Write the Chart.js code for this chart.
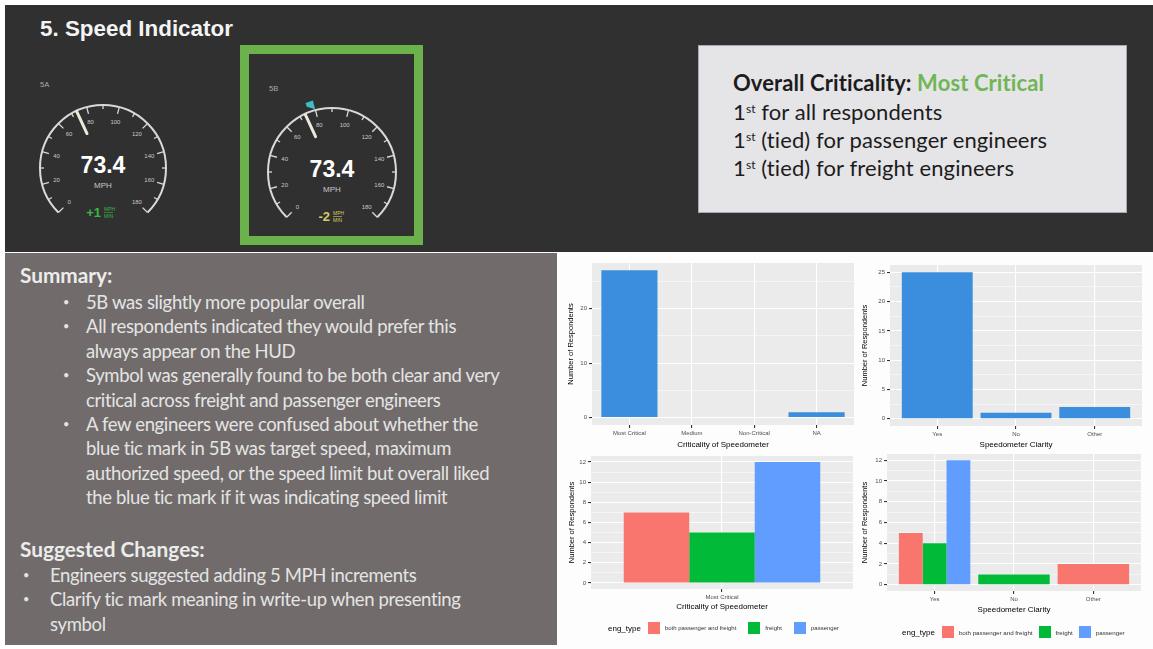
<!DOCTYPE html>
<html><head><meta charset="utf-8">
<script src="https://cdn.jsdelivr.net/npm/chart.js@4.4.1/dist/chart.umd.min.js"></script>
<style>
html,body{margin:0;padding:0;background:#ffffff;width:1153px;height:649px;overflow:hidden;position:relative;font-family:"Liberation Sans",Arial,sans-serif}
#top{position:absolute;left:5px;top:5px;width:1148px;height:247px;background:#303030}
#title{position:absolute;left:40px;top:16px;font:bold 22.4px "Liberation Sans",Arial,sans-serif;color:#f4f4f4;white-space:nowrap}
#gbox{position:absolute;left:240px;top:45px;width:183px;height:200px;border:9px solid #6cb24c;box-sizing:border-box}
#gsvg{position:absolute;left:0;top:0}
#crit{position:absolute;left:698px;top:45px;width:429px;height:168px;background:#e5e4e7;border:1px solid #a6a9b5;box-sizing:border-box}
.ct{position:absolute;left:733px;font:22px Lato,"Open Sans",sans-serif;color:#1c1c1c;white-space:nowrap;line-height:28px;letter-spacing:0.1px}
.ct sup{font-size:12px;vertical-align:top;position:relative;top:-3px}
#sumbox{position:absolute;left:5px;top:253px;width:552px;height:392px;background:#716c6b}
.st{position:absolute;font:bold 20.8px Lato,"Open Sans",sans-serif;color:#ececec;white-space:nowrap;line-height:24.4px}
.sl{position:absolute;font:18.5px Lato,"Open Sans",sans-serif;color:#e4e4e4;white-space:nowrap;line-height:24.4px;letter-spacing:-0.36px}
.bl{position:absolute;font:11px Lato,"Open Sans",sans-serif;color:#e4e4e4;line-height:24.4px}
#right{position:absolute;left:557px;top:253px;width:596px;height:396px;background:#fdfdfd}
canvas{position:absolute}
.lg{position:absolute;display:flex;align-items:center;font:6px "Liberation Sans",Arial,sans-serif;color:#333;white-space:nowrap}
.lg .lt{font-size:8px;color:#000;margin-right:7px}
.lg .k{width:12px;height:12px;margin-right:5px}
.lg .tx{margin-right:12px}
#lg4 .tx{margin-right:6px}
</style></head>
<body>
<div id="top"></div>
<div id="title">5. Speed Indicator</div>
<div id="gbox"></div>
<svg id="gsvg" width="1153" height="252" xmlns="http://www.w3.org/2000/svg"></svg>

<div id="crit"></div>
<div class="ct" style="top:69px;font-weight:bold">Overall Criticality: <span style="color:#6fb656">Most Critical</span></div>
<div class="ct" style="top:98px">1<sup>st</sup> for all respondents</div>
<div class="ct" style="top:126px">1<sup>st</sup> (tied) for passenger engineers</div>
<div class="ct" style="top:154px">1<sup>st</sup> (tied) for freight engineers</div>

<div id="sumbox"></div>
<div class="st" style="left:20px;top:263px">Summary:</div>
<div id="sumlines"></div>
<div class="st" style="left:20px;top:537px">Suggested Changes:</div>

<div id="right"></div>
<canvas id="c1" width="298" height="195" style="left:557px;top:255px"></canvas>
<canvas id="c2" width="298" height="195" style="left:855px;top:255px"></canvas>
<canvas id="c3" width="298" height="165" style="left:557px;top:447px"></canvas>
<canvas id="c4" width="298" height="170" style="left:855px;top:445px"></canvas>
<div class="lg" id="lg3" style="left:608px;top:622px"></div>
<div class="lg" id="lg4" style="left:902px;top:626px;font-size:6.2px"></div>

<script>
// ---------- data ----------
const critCategories = ["Most Critical", "Medium", "Non-Critical", "NA"];
const critCounts = [27, 0, 0, 1];
const critTicks = [0, 10, 20];

const clarityCategories = ["Yes", "No", "Other"];
const clarityCounts = [25, 1, 2];
const clarityTicks = [0, 5, 10, 15, 20, 25];

const engTypes = ["both passenger and freight", "freight", "passenger"];
const critTypeCategories = ["Most Critical"];
const critBoth = [7];
const critFreight = [5];
const critPassenger = [12];
const clarityBoth = [5, null, 2];
const clarityFreight = [4, 1, null];
const clarityPassenger = [12, null, null];
const typeTicks = [0, 2, 4, 6, 8, 10, 12];

const gaugeTickLabels = [0, 20, 40, 60, 80, 100, 120, 140, 160, 180];
const gaugeSpeed = 73.4;
const gaugeLimitMark = 80;
const gaugeRates = ["+1", "-2"];

const summaryBullets = [
  ["5B was slightly more popular overall"],
  ["All respondents indicated they would prefer this", "always appear on the HUD"],
  ["Symbol was generally found to be both clear and very", "critical across freight and passenger engineers"],
  ["A few engineers were confused about whether the", "blue tic mark in 5B was target speed, maximum", "authorized speed, or the speed limit but overall liked", "the blue tic mark if it was indicating speed limit"]
];
const changeBullets = [
  ["Engineers suggested adding 5 MPH increments"],
  ["Clarify tic mark meaning in write-up when presenting", "symbol"]
];

const singleBlue = "#3b8edd";
const typeColors = ["#F8766D", "#00BA38", "#619CFF"];
const FONT = "'Liberation Sans', Arial, sans-serif";

// ---------- text blocks ----------
(function(){
  const host = document.getElementById('sumlines');
  function addList(items, top, bx, tx){
    let y = top;
    items.forEach(lines => {
      lines.forEach((ln, i) => {
        if (i === 0) {
          const b = document.createElement('div'); b.className='bl'; b.style.left=bx+'px'; b.style.top=y+'px'; b.textContent='•'; host.appendChild(b);
        }
        const d = document.createElement('div'); d.className='sl'; d.style.left=tx+'px'; d.style.top=y+'px'; d.textContent=ln; host.appendChild(d);
        y += 24.4;
      });
    });
  }
  addList(summaryBullets, 290, 63, 86);
  addList(changeBullets, 563, 23, 50);
})();

// ---------- gauges ----------
(function(){
  const svg = document.getElementById('gsvg');
  const NS = 'http://www.w3.org/2000/svg';
  function el(tag, attrs, text){ const e=document.createElementNS(NS,tag); for(const k in attrs) e.setAttribute(k, attrs[k]); if(text!==undefined) e.textContent=text; svg.appendChild(e); return e; }
  function pt(cx, cy, R, v){ const a=(-135 + v*1.5)*Math.PI/180; return [cx + R*Math.sin(a), cy - R*Math.cos(a)]; }
  function gauge(cx, cy, r, name, rate, rateColor, limit){
    el('text',{x:cx-63,y:cy-81,fill:'#a9a9a9','font-size':7.5,'font-family':FONT},name);
    const s=pt(cx,cy,r,0), e=pt(cx,cy,r,180);
    el('path',{d:`M${s[0]} ${s[1]} A${r} ${r} 0 1 1 ${e[0]} ${e[1]}`,fill:'none',stroke:'#d9d9d9','stroke-width':2});
    for(let v=0; v<=180; v+=10){
      const major = gaugeTickLabels.indexOf(v)>=0;
      const p1=pt(cx,cy,r,v), p2=pt(cx,cy,r-(major?7:4),v);
      el('line',{x1:p1[0],y1:p1[1],x2:p2[0],y2:p2[1],stroke:'#d9d9d9','stroke-width':1.3});
    }
    gaugeTickLabels.forEach(v=>{ const p=pt(cx,cy,r-15,v); el('text',{x:p[0],y:p[1]+2,fill:'#c8c8c8','font-size':6,'font-family':FONT,'text-anchor':'middle'},String(v)); });
    const n1=pt(cx,cy,r-1,gaugeSpeed), n2=pt(cx,cy,r-25,gaugeSpeed);
    el('line',{x1:n1[0],y1:n1[1],x2:n2[0],y2:n2[1],stroke:'#ece9dc','stroke-width':3,'stroke-linecap':'round'});
    if(limit!==null){
      const a=pt(cx,cy,r+1,limit), b=pt(cx,cy,r+10,limit), c=pt(cx,cy,r+10,limit-4), d=pt(cx,cy,r+6,limit-4);
      el('polygon',{points:`${a[0]},${a[1]} ${b[0]},${b[1]} ${c[0]},${c[1]} ${d[0]},${d[1]}`,fill:'#41bcc6'});
    }
    el('text',{x:cx,y:cy+5,fill:'#ffffff','font-size':23,'font-weight':'bold','font-family':FONT,'text-anchor':'middle'},String(gaugeSpeed));
    el('text',{x:cx,y:cy+20,fill:'#c9c9c9','font-size':8,'font-family':FONT,'text-anchor':'middle'},'MPH');
    el('text',{x:cx-2,y:cy+49,fill:rateColor,'font-size':13,'font-weight':'bold','font-family':FONT,'text-anchor':'end'},rate);
    el('text',{x:cx+1,y:cy+43,fill:rateColor,'font-size':5,'font-family':FONT},'MPH');
    el('line',{x1:cx+1,y1:cy+44.5,x2:cx+10,y2:cy+44.5,stroke:rateColor,'stroke-width':0.6});
    el('text',{x:cx+1,y:cy+50,fill:rateColor,'font-size':5,'font-family':FONT},'MIN');
  }
  gauge(103, 168, 63, '5A', gaugeRates[0], '#3cb54a', null);
  gauge(332, 172, 64, '5B', gaugeRates[1], '#d6cc66', gaugeLimitMark);
})();

// ---------- charts ----------
const panelBg = { id:'panelBg', beforeDraw(c){ const a=c.chartArea, x=c.ctx; x.save(); x.fillStyle='#ebebeb'; x.fillRect(a.left,a.top,a.right-a.left,a.bottom-a.top); x.restore(); } };

function minorBreaks(majors, min, max){
  const step = majors[1]-majors[0], out=[];
  for(let i=-1;i<majors.length;i++){ const m = majors[0]+step*(i+0.5); if(m>min && m<max) out.push(m); }
  return out;
}
function yAxis(majors, dataMax, width, titlePad){
  const ext = dataMax*0.05, min=-ext, max=dataMax+ext;
  const all = majors.concat(minorBreaks(majors,min,max)).sort((a,b)=>a-b);
  const isMajor = v => majors.indexOf(v)>=0;
  return {
    type:'linear', min:min, max:max,
    afterBuildTicks: s => { s.ticks = all.map(v=>({value:v})); },
    afterFit: s => { s.width = width; },
    grid:{ color:'#ffffff', lineWidth: c => (c.tick && isMajor(c.tick.value)) ? 1.1 : 0.5,
           tickColor: c => (c.tick && isMajor(c.tick.value)) ? '#333333' : 'rgba(0,0,0,0)', tickLength:3, drawTicks:true },
    border:{display:false},
    ticks:{ autoSkip:false, padding:2, color:'#4d4d4d', font:{family:FONT,size:6}, callback: v => isMajor(v) ? String(v) : '' },
    title:{ display:true, text:'Number of Respondents', color:'#000', font:{family:FONT,size:7.5}, padding:{top:titlePad,bottom:0} }
  };
}
function xAxis(title, height, titlePad){
  return {
    type:'category', offset:true,
    afterBuildTicks: s => { s._startValue = s.min - 0.6; s._valueRange = (s.max - s.min) + 1.2; },
    afterFit: s => { s.height = height; },
    grid:{ offset:false, color:'#ffffff', lineWidth:1.1, tickColor:'#333333', tickLength:3 },
    border:{display:false},
    ticks:{ autoSkip:false, maxRotation:0, padding:2, color:'#4d4d4d', font:{family:FONT,size:6} },
    title:{ display:true, text:title, color:'#000', font:{family:FONT,size:8}, padding:{top:titlePad,bottom:0} }
  };
}
function make(id, labels, datasets, yMajors, yMax, yW, yPad, xTitle, xH, xPad, padding, catPct){
  return new Chart(document.getElementById(id), {
    type:'bar',
    data:{ labels: labels, datasets: datasets.map(d => Object.assign({ borderWidth:0, categoryPercentage:catPct, barPercentage:1.0, skipNull:true }, d)) },
    options:{
      responsive:false, animation:false, devicePixelRatio:1,
      layout:{ padding: padding },
      plugins:{ legend:{display:false}, tooltip:{enabled:false} },
      scales:{ x: xAxis(xTitle, xH, xPad), y: yAxis(yMajors, yMax, yW, yPad) }
    },
    plugins:[panelBg]
  });
}

make('c1', critCategories, [{label:'count', data:critCounts, backgroundColor:singleBlue}],
     critTicks, Math.max(...critCounts), 35, 9.5, 'Criticality of Speedometer', 25, 2.2, {left:0,right:1,top:8,bottom:0}, 0.9);
make('c2', clarityCategories, [{label:'count', data:clarityCounts, backgroundColor:singleBlue}],
     clarityTicks, Math.max(...clarityCounts), 35, 5.5, 'Speedometer Clarity', 24, 3.2, {left:0,right:11,top:10,bottom:0}, 0.9);
make('c3', critTypeCategories, [
       {label:engTypes[0], data:critBoth, backgroundColor:typeColors[0]},
       {label:engTypes[1], data:critFreight, backgroundColor:typeColors[1]},
       {label:engTypes[2], data:critPassenger, backgroundColor:typeColors[2]}],
     typeTicks, Math.max(...critBoth, ...critFreight, ...critPassenger), 34, 10.5, 'Criticality of Speedometer', 23, 1.2, {left:0,right:2,top:9,bottom:0}, 0.75);
make('c4', clarityCategories, [
       {label:engTypes[0], data:clarityBoth, backgroundColor:typeColors[0]},
       {label:engTypes[1], data:clarityFreight, backgroundColor:typeColors[1]},
       {label:engTypes[2], data:clarityPassenger, backgroundColor:typeColors[2]}],
     typeTicks, 12, 32, 5.5, 'Speedometer Clarity', 24, 2.2, {left:0,right:12,top:9,bottom:0}, 0.9);

// ---------- legends ----------
function legend(id){
  const host = document.getElementById(id);
  const t = document.createElement('span'); t.className='lt'; t.textContent='eng_type'; host.appendChild(t);
  engTypes.forEach((name,i)=>{
    const k=document.createElement('span'); k.className='k'; k.style.background=typeColors[i]; host.appendChild(k);
    const s=document.createElement('span'); s.className='tx'; s.textContent=name; host.appendChild(s);
  });
}
legend('lg3'); legend('lg4');
</script>
</body></html>
